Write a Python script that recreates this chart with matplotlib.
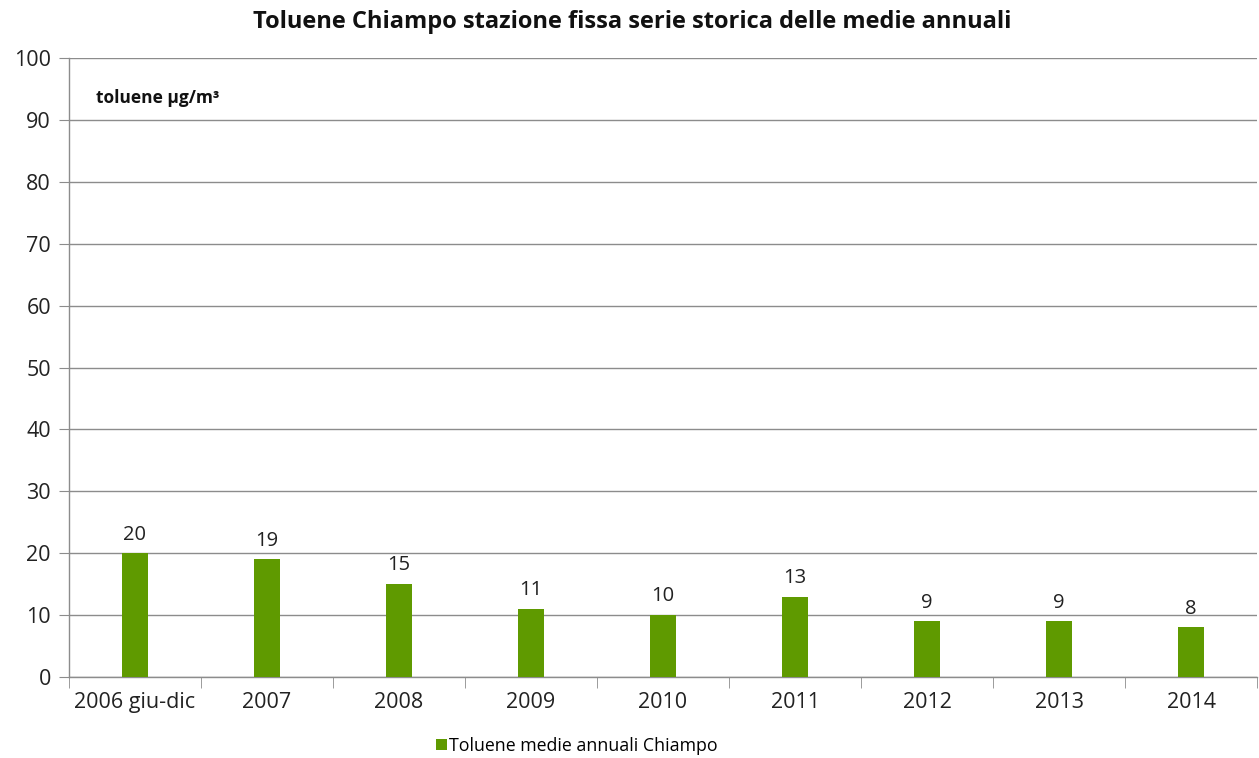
import matplotlib
matplotlib.use("Agg")
import matplotlib.pyplot as plt
import numpy as np

categories = ["2006 giu-dic", "2007", "2008", "2009", "2010", "2011", "2012", "2013", "2014"]
values = [20, 19, 15, 11, 10, 13, 9, 9, 8]
series_name = "Toluene medie annuali Chiampo"
title = "Toluene Chiampo stazione fissa serie storica delle medie annuali"
unit_label = "toluene µg/m³"

plt.rcParams['font.family'] = ['Open Sans', 'DejaVu Sans']

fig = plt.figure(figsize=(12.59, 7.58), dpi=100)
ax = fig.add_axes([69/1259, 81/758, (1257-69)/1259, (677-58)/758])

x = np.arange(len(categories))
bar_color = "#5f9a00"
bars = ax.bar(x, values, width=0.2, color=bar_color, zorder=3, label=series_name)

for xi, v in zip(x, values):
    ax.text(xi, v + 1.4, f"{v}", ha="center", va="bottom", fontsize=14.5, color="#222222")

ax.set_xlim(-0.5, len(categories) - 0.5)
ax.set_ylim(0, 100)
ax.set_yticks(np.arange(0, 101, 10))
ax.yaxis.grid(True, color="#8c8c8c", linewidth=1.0, zorder=0)
ax.tick_params(axis="y", labelsize=15.5, length=7, color="#8c8c8c", labelcolor="#222222", pad=6)

# category labels centred, tick marks at category boundaries
ax.set_xticks(x)
ax.set_xticklabels(categories)
ax.tick_params(axis="x", which="major", length=0, labelsize=15.5, labelcolor="#222222", pad=11)
ax.set_xticks(np.arange(-0.5, len(categories) + 0.5, 1), minor=True)
ax.tick_params(axis="x", which="minor", length=8, color="#8c8c8c", direction="out")

for side in ["top", "right"]:
    ax.spines[side].set_visible(False)
for side in ["left", "bottom"]:
    ax.spines[side].set_color("#8c8c8c")
    ax.spines[side].set_linewidth(1.0)

fig.text(632/1259, 1 - 22/758, title, ha="center", va="center", fontsize=17, fontweight="bold", color="#111111")
ax.text(0.023, 0.935, unit_label, transform=ax.transAxes, ha="left", va="center",
        fontsize=12.5, fontweight="bold", color="#111111")

fig.legend(handles=[bars], labels=[series_name], loc="center", bbox_to_anchor=(577/1259, 1 - 746/758),
           frameon=False, fontsize=12.8, handlelength=0.6, handleheight=0.6, handletextpad=0.15)

fig.savefig("out.png", dpi=100, facecolor="white")
